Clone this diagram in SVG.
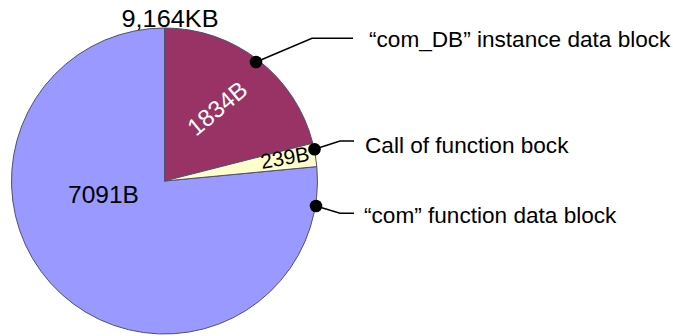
<svg xmlns="http://www.w3.org/2000/svg" width="673" height="336" viewBox="0 0 673 336">
<style>
.sl{stroke:#50506e;stroke-width:1;stroke-linejoin:round}
.t{font-family:"Liberation Sans",Arial,sans-serif;fill:#000}
.lab{font-size:22.6px}
.ln{fill:none;stroke:#000;stroke-width:1.5}
.dot{fill:#000}
</style>
<rect width="673" height="336" fill="#fff"/>
<g id="pie">
<g id="slice-com">
<path class="sl" fill="#9999ff" d="M164.5,181 L316.8,166.6 A153,153 0 1,1 164.5,28 Z"/>
<text class="t" x="68" y="202.5" font-size="24.5">7091B</text>
</g>
<g id="slice-comdb">
<path class="sl" fill="#993366" d="M164.5,181 L164.5,28 A153,153 0 0,1 312.8,143.2 Z"/>
<text class="t" x="0" y="0" font-size="24" style="fill:#fff" transform="translate(196,137) rotate(-40)">1834B</text>
</g>
<g id="slice-call">
<path class="sl" fill="#ffffcc" d="M164.5,181 L312.8,143.2 A153,153 0 0,1 316.8,166.6 Z"/>
<text class="t" x="0" y="0" font-size="21" transform="translate(262,169) rotate(-10)">239B</text>
</g>
<text id="total" class="t" x="121.5" y="26.5" font-size="24" textLength="97" lengthAdjust="spacingAndGlyphs">9,164KB</text>
</g>
<g id="connectors">
<polyline class="ln" points="256,62 312,38.3 353,38.3"/>
<polyline class="ln" points="314.5,149.3 340,141 354,141"/>
<polyline class="ln" points="316,206 340,213.3 354,213.3"/>
<circle class="dot" cx="256" cy="62" r="6.3"/>
<circle class="dot" cx="314.5" cy="149.3" r="6.3"/>
<circle class="dot" cx="316" cy="206" r="6.3"/>
</g>
<g id="label-comdb"><text class="t lab" x="369" y="46.5">“com_DB” instance data block</text></g>
<g id="label-call"><text class="t lab" x="365" y="153.3">Call of function bock</text></g>
<g id="label-com"><text class="t lab" x="364" y="223.3">“com” function data block</text></g>
</svg>
